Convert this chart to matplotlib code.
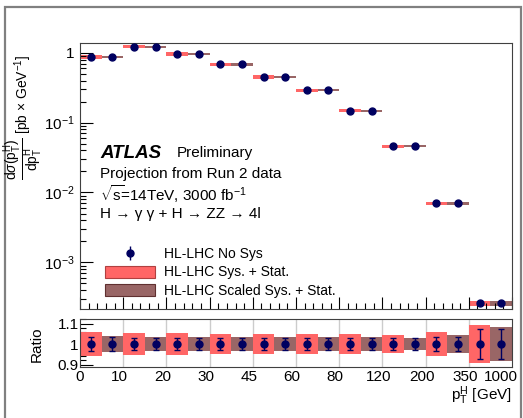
import matplotlib
matplotlib.use('Agg')
import matplotlib.pyplot as plt
import matplotlib.transforms as mtransforms
import numpy as np
from matplotlib.patches import Patch, Rectangle
from matplotlib.ticker import LogLocator, NullFormatter, MultipleLocator

plt.rcParams['font.family'] = ['Liberation Sans', 'DejaVu Sans']
plt.rcParams['mathtext.fontset'] = 'custom'
plt.rcParams['mathtext.rm'] = 'Liberation Sans'
plt.rcParams['mathtext.it'] = 'Liberation Sans:italic'
plt.rcParams['mathtext.bf'] = 'Liberation Sans:bold'

# pT^H bin edges [GeV], drawn with equal widths
pt_edges = ['0', '10', '20', '30', '45', '60', '80', '120', '200', '350', '1000']
# differential cross section per bin [pb/GeV]
xsec = [0.877, 1.22, 0.96, 0.68, 0.45, 0.29, 0.148, 0.046, 0.0070, 0.00026]
# relative uncertainties
stat_unc = [0.036, 0.027, 0.031, 0.027, 0.030, 0.030, 0.027, 0.028, 0.036, 0.075]
sys_unc = [0.057, 0.052, 0.053, 0.050, 0.051, 0.051, 0.048, 0.045, 0.057, 0.092]
scaled_unc = [0.040, 0.036, 0.035, 0.035, 0.034, 0.035, 0.033, 0.030, 0.045, 0.083]

red = '#ff6666'
brown = '#996666'
navy = '#000060'

W, H = 523, 418
fig = plt.figure(figsize=(W / 100, H / 100), dpi=100)


def box(l, t, r, b):
    return [l / W, 1 - b / H, (r - l) / W, (b - t) / H]


# canvas border
fig.patches.append(Rectangle((5 / W, -0.05), 516 / W, 1.05 - 7 / H, transform=fig.transFigure,
                             fill=False, ec='#808080', lw=1.6))

ax = fig.add_axes(box(80, 43, 512, 309))
rax = fig.add_axes(box(80, 319, 512, 367))

n = len(xsec)
idx = np.arange(n)
xs = np.array(xsec)
st = np.array(stat_unc)
sy = np.array(sys_unc)
sc = np.array(scaled_unc)

# main panel
ax.bar(idx, 2 * xs * sy, bottom=xs * (1 - sy), width=0.5, align='edge', color=red, lw=0)
ax.bar(idx + 0.5, 2 * xs * sc, bottom=xs * (1 - sc), width=0.5, align='edge', color=brown, lw=0)
xp = np.concatenate([idx + 0.25, idx + 0.75])
yp = np.concatenate([xs, xs])
ep = np.concatenate([xs * st, xs * st])
ax.errorbar(xp, yp, yerr=ep, fmt='o', color=navy, ms=5, capsize=0, elinewidth=1, zorder=3)

ax.set_yscale('log')
ax.set_xlim(0, n)
ax.set_ylim(2.15e-4, 1.38)
ax.set_yticks([1e-3, 1e-2, 1e-1, 1], labels=['$10^{-3}$', '$10^{-2}$', '$10^{-1}$', '1'])
ax.yaxis.set_minor_locator(LogLocator(base=10, subs=np.arange(2, 10)))
ax.yaxis.set_minor_formatter(NullFormatter())
ax.set_xticks(np.arange(n + 1))
ax.xaxis.set_minor_locator(MultipleLocator(0.2))
ax.tick_params(axis='x', labelbottom=False)
ax.tick_params(which='both', direction='in', top=False, right=False)
ax.tick_params(which='major', length=9, width=0.8, labelsize=11, pad=4)
ax.tick_params(which='minor', length=4.5, width=0.8)
for s in ax.spines.values():
    s.set_color('#404040')

# legend
h_nosys = ax.errorbar([], [], yerr=[], fmt='o', color=navy, ms=5, capsize=3, elinewidth=1)
h_sys = Patch(facecolor=red, edgecolor='#b04040', lw=0.8)
h_scaled = Patch(facecolor=brown, edgecolor='#603030', lw=0.8)
ax.legend([h_nosys, h_sys, h_scaled],
          ['HL-LHC No Sys', 'HL-LHC Sys. + Stat.', 'HL-LHC Scaled Sys. + Stat.'],
          loc='upper left', bbox_to_anchor=(25 / 432, 1 - 204 / 266), frameon=False,
          fontsize=10, handlelength=3.6, handleheight=0.95, handletextpad=0.65,
          labelspacing=0.32, borderpad=0, borderaxespad=0)

ax.text(20 / 432, 1 - 110 / 266, 'ATLAS', transform=ax.transAxes, fontsize=13.5,
        fontweight='bold', fontstyle='italic', va='center')
ax.text(97 / 432, 1 - 110 / 266, 'Preliminary', transform=ax.transAxes, fontsize=11, va='center')
ax.text(20 / 432, 1 - 131 / 266, 'Projection from Run 2 data', transform=ax.transAxes,
        fontsize=11, va='center')
ax.text(20 / 432, 1 - 151 / 266, r'$\sqrt{\mathrm{s}}\!$=14TeV, 3000 fb$^{-1}$',
        transform=ax.transAxes, fontsize=11, va='center')
ax.text(20 / 432, 1 - 171 / 266, 'H → γ γ + H → ZZ → 4l', transform=ax.transAxes,
        fontsize=11, va='center')

fig.text(23 / W, 1 - 117 / H,
         r'$\dfrac{\mathrm{d}\sigma(\mathrm{p}_{\mathrm{T}}^{\mathrm{H}})}{\mathrm{dp}_{\mathrm{T}}^{\mathrm{H}}}$'
         r' [pb $\times$ GeV$^{-1}$]',
         rotation=90, ha='center', va='center', fontsize=10)

# ratio panel
rax.bar(idx, 2 * sy, bottom=1 - sy, width=0.5, align='edge', color=red, lw=0, zorder=2)
rax.bar(idx + 0.5, 2 * sc, bottom=1 - sc, width=0.5, align='edge', color=brown, lw=0, zorder=2)
rax.errorbar(xp, np.ones(2 * n), yerr=np.concatenate([st, st]), fmt='o', color=navy, ms=5,
             capsize=2, elinewidth=1, capthick=1, zorder=3)
for b in idx[1:]:
    rax.axvline(b, color='#cccccc', lw=1, zorder=1)

rax.set_xlim(0, n)
rax.set_ylim(0.888, 1.122)
rax.set_xticks(np.arange(n + 1), labels=pt_edges)
rax.set_yticks([0.9, 1.0, 1.1], labels=['0.9', '1', '1.1'])
rax.yaxis.set_minor_locator(MultipleLocator(0.02))
rax.tick_params(axis='x', length=0, labelsize=11, pad=2)
rax.tick_params(axis='y', which='both', direction='in', labelsize=11, pad=1)
rax.tick_params(axis='y', which='major', length=9, width=0.8)
rax.tick_params(axis='y', which='minor', length=4.5, width=0.8)
for s in rax.spines.values():
    s.set_color('#404040')

# shift the inner bin-edge labels slightly left, the last one more so it stays inside
xlabels = rax.get_xticklabels()
for i, lab in enumerate(xlabels):
    if i == 0:
        continue
    dx = -11 if i == len(xlabels) - 1 else -4
    lab.set_transform(lab.get_transform() + mtransforms.ScaledTranslation(dx / 100, 0, fig.dpi_scale_trans))

fig.text(37 / W, 1 - 344 / H, 'Ratio', rotation=90, ha='center', va='center', fontsize=11)
fig.text(512 / W, 1 - 396 / H, r'$\mathrm{p}_{\mathrm{T}}^{\mathrm{H}}$ [GeV]',
         ha='right', va='center', fontsize=11)

fig.savefig('out.png', dpi=100)
